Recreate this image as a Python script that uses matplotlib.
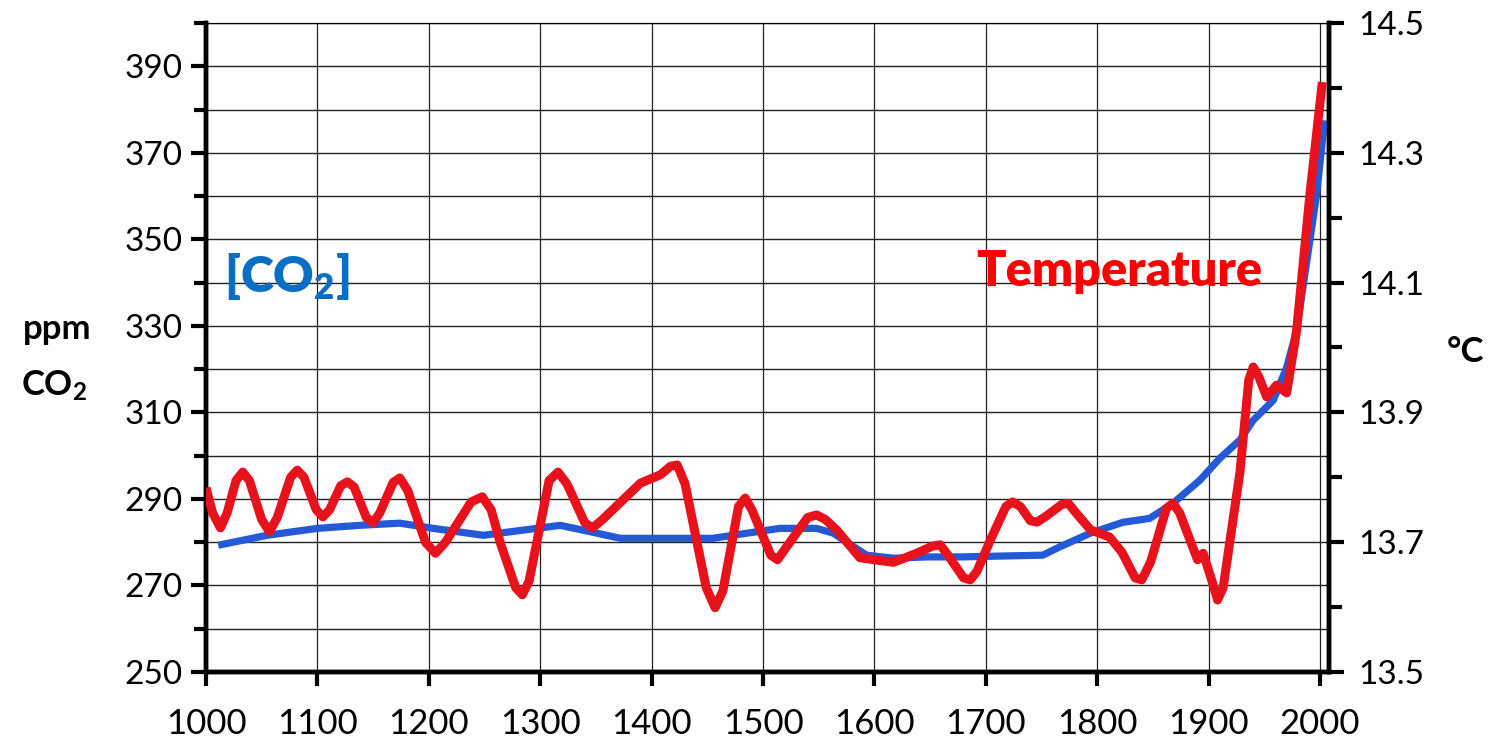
import numpy as np
import matplotlib
matplotlib.use("Agg")
import matplotlib.pyplot as plt
from matplotlib.ticker import MultipleLocator, FixedLocator

plt.rcParams['font.family'] = ['Lato', 'DejaVu Sans']
plt.rcParams['mathtext.default'] = 'regular'

# CO2 concentration (ppm), left axis
co2_years = [1011, 1055, 1100, 1138, 1174, 1204, 1249, 1318, 1347, 1372, 1425,
             1455, 1486, 1515, 1548, 1563, 1593, 1617, 1647, 1677, 1751, 1767,
             1794, 1823, 1847, 1868, 1892, 1910, 1928, 1940, 1958, 1970, 1979,
             1997, 2004]
co2_ppm = [279.3, 281.6, 283.2, 283.9, 284.4, 283.2, 281.6, 283.9, 282.3, 280.9, 280.9,
           280.9, 282.1, 283.2, 283.2, 282.1, 277.0, 276.3, 276.6, 276.6, 277.0, 279.0,
           282.1, 284.6, 285.5, 289.0, 294.3, 299.4, 303.6, 308.2, 312.8, 320.4, 329.0,
           360.6, 377.5]

# global temperature (deg C), right axis
temp_years = [1000, 1006, 1013, 1019, 1027, 1033, 1039, 1050, 1057, 1064, 1076,
              1082, 1088, 1099, 1105, 1111, 1121, 1127, 1133, 1144, 1150, 1156,
              1168, 1174, 1181, 1197, 1206, 1215, 1238, 1248, 1256, 1264, 1278,
              1284, 1290, 1308, 1316, 1324, 1340, 1347, 1356, 1390, 1408, 1417,
              1423, 1430, 1449, 1457, 1464, 1478, 1484, 1490, 1507, 1513, 1520,
              1540, 1548, 1556, 1566, 1587, 1617, 1638, 1652, 1659, 1666, 1680,
              1686, 1692, 1704, 1718, 1724, 1731, 1740, 1746, 1754, 1768, 1774,
              1781, 1794, 1811, 1822, 1834, 1840, 1848, 1862, 1868, 1874, 1890,
              1895, 1903, 1908, 1913, 1928, 1936, 1940, 1945, 1952, 1961, 1970,
              1979, 1991, 2002]
temp_c = [13.784, 13.745, 13.722, 13.745, 13.795, 13.808, 13.795, 13.735, 13.716, 13.738, 13.800,
          13.811, 13.800, 13.750, 13.739, 13.750, 13.787, 13.793, 13.785, 13.738, 13.730, 13.745,
          13.792, 13.799, 13.780, 13.700, 13.683, 13.700, 13.762, 13.770, 13.750, 13.700, 13.630,
          13.619, 13.640, 13.795, 13.808, 13.790, 13.730, 13.722, 13.735, 13.791, 13.804, 13.817,
          13.819, 13.790, 13.630, 13.599, 13.625, 13.755, 13.768, 13.750, 13.680, 13.673, 13.690,
          13.738, 13.742, 13.735, 13.719, 13.676, 13.669, 13.683, 13.694, 13.696, 13.680, 13.645,
          13.642, 13.655, 13.703, 13.755, 13.762, 13.755, 13.733, 13.731, 13.740, 13.758, 13.760,
          13.745, 13.719, 13.708, 13.685, 13.645, 13.642, 13.670, 13.752, 13.760, 13.745, 13.673,
          13.683, 13.640, 13.611, 13.630, 13.807, 13.950, 13.970, 13.955, 13.924, 13.942, 13.930,
          14.027, 14.238, 14.409]

x_ticks = list(range(1000, 2001, 100))
co2_labels = list(range(250, 391, 20))
temp_labels = [13.5, 13.7, 13.9, 14.1, 14.3, 14.5]

fig = plt.figure(figsize=(15, 7.56), dpi=100)
ax = fig.add_axes([0.1373, 0.1111, 0.7487, 0.8585])
ax2 = ax.twinx()

ax.set_xlim(1000, 2008)
ax.set_ylim(250, 400)
ax2.set_ylim(13.5, 14.5)

# grid
ax.set_xticks(x_ticks)
ax.set_xticklabels([str(v) for v in x_ticks])
ax.yaxis.set_major_locator(FixedLocator(co2_labels))
ax.set_yticklabels([str(v) for v in co2_labels])
ax.yaxis.set_minor_locator(MultipleLocator(10))
ax.grid(True, which='both', axis='y', color='#222222', linewidth=1.0)
ax.grid(True, which='major', axis='x', color='#222222', linewidth=0.9)
ax.set_axisbelow(True)

ax.plot(co2_years, co2_ppm, color='#2459d8', linewidth=5.2,
        solid_capstyle='butt', zorder=3)
ax2.plot(temp_years, temp_c, color='#e8121c', linewidth=6.5,
         solid_joinstyle='round', solid_capstyle='butt', zorder=4)

# spines and ticks
for a in (ax, ax2):
    a.spines['top'].set_linewidth(0.8)
    a.spines['left'].set_linewidth(3.2)
    a.spines['right'].set_linewidth(3.2)
    a.spines['bottom'].set_linewidth(3.2)

ax.tick_params(axis='x', which='major', direction='out', length=10, width=3,
               labelsize=25, pad=16)
ax.tick_params(axis='y', which='major', direction='out', length=11, width=3,
               labelsize=24, pad=6)
ax.tick_params(axis='y', which='minor', direction='out', length=9, width=3)

ax2.yaxis.set_major_locator(FixedLocator(temp_labels))
ax2.set_yticklabels([f'{v:.1f}' for v in temp_labels])
ax2.yaxis.set_minor_locator(MultipleLocator(0.1))
ax2.tick_params(axis='y', which='major', direction='out', length=11, width=3,
                labelsize=24, pad=10)
ax2.tick_params(axis='y', which='minor', direction='out', length=9, width=3)

# axis titles and series labels
fig.text(0.038, 0.565, 'ppm', fontsize=25, fontweight='bold', ha='center', va='center')
fig.text(0.036, 0.49, 'CO$_2$', fontsize=25, fontweight='bold', ha='center', va='center')
fig.text(0.977, 0.535, '°C', fontsize=25, fontweight='bold', ha='center', va='center')

ax.text(1016, 341.5, '[CO$_2$]', color='#0a6fc4', fontsize=36, fontweight='heavy',
        ha='left', va='center')
ax.text(1691, 342.5, 'Temperature', color='#ff0000', fontsize=35, fontweight='heavy',
        ha='left', va='center')

fig.savefig('out.png', dpi=100)
